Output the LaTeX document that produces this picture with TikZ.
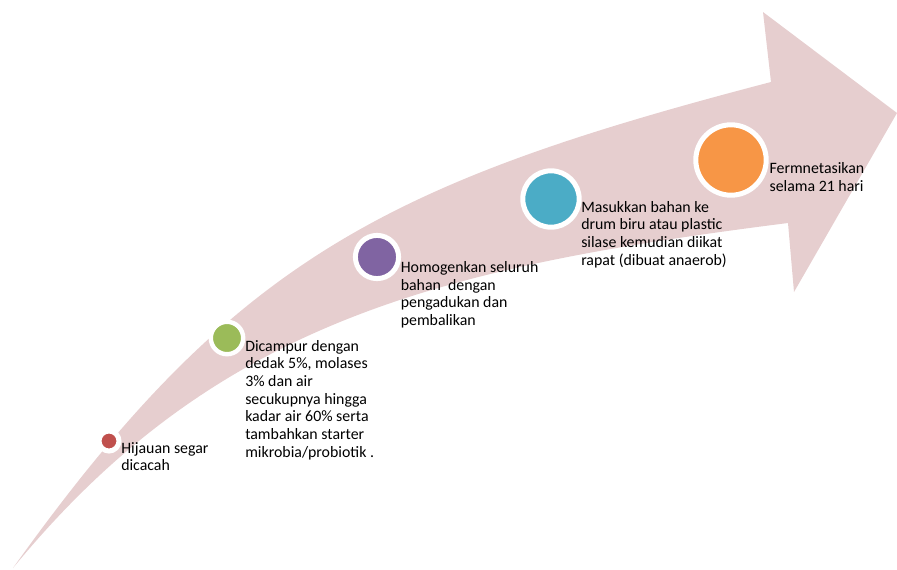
\documentclass[tikz,border=0pt]{standalone}
\usepackage{fontspec}
\setmainfont{Carlito}
\definecolor{arrowpink}{HTML}{E6CECF}
\definecolor{dotred}{HTML}{C0504D}
\definecolor{dotgreen}{HTML}{9BBB59}
\definecolor{dotpurple}{HTML}{8064A2}
\definecolor{dotblue}{HTML}{4BACC6}
\definecolor{dotorange}{HTML}{F79646}
\newcommand{\steptext}[1]{\parbox[t]{6cm}{\raggedright\fontsize{11.9}{13.3}\selectfont #1}}
\begin{document}
\begin{tikzpicture}[x=0.75pt,y=-0.75pt,
  stepdot/.style={circle, draw=white, inner sep=0pt},
  steplabel/.style={anchor=base west, inner sep=0pt, text=black}]
\useasboundingbox (0,0) rectangle (897,569);
% curved arrow
\fill[arrowpink] (13,568) .. controls (216,321) and (441,267) .. (788,223)
  -- (794,292) -- (897,113) -- (763,12) -- (771,82)
  .. controls (384,183) and (233,260) .. (13,568) -- cycle;
% dots
\node[stepdot, fill=dotred,    minimum size=15pt,   line width=3.75pt] (d1) at (109,441) {};
\node[stepdot, fill=dotgreen,  minimum size=24.3pt, line width=3.3pt]  (d2) at (227,338) {};
\node[stepdot, fill=dotpurple, minimum size=32.4pt, line width=3.75pt] (d3) at (377,257) {};
\node[stepdot, fill=dotblue,   minimum size=42.3pt, line width=3.75pt] (d4) at (551,199) {};
\node[stepdot, fill=dotorange, minimum size=52.8pt, line width=3.75pt] (d5) at (731,160) {};
% labels
\node[steplabel] (t1) at (121,453) {\steptext{Hijauan segar\\dicacah}};
\node[steplabel] (t2) at (245,351) {\steptext{Dicampur dengan\\dedak 5\%, molases\\3\% dan air\\secukupnya hingga\\kadar air 60\% serta\\tambahkan starter\\mikrobia/probiotik .}};
\node[steplabel] (t3) at (400.5,272.3) {\steptext{Homogenkan seluruh\\bahan\ \ dengan\\pengadukan dan\\pembalikan}};
\node[steplabel] (t4) at (581,212) {\steptext{Masukkan bahan ke\\drum biru atau plastic\\silase kemudian diikat\\rapat (dibuat anaerob)}};
\node[steplabel] (t5) at (769.3,173.3) {\steptext{Fermnetasikan\\selama 21 hari}};
\end{tikzpicture}
\end{document}
